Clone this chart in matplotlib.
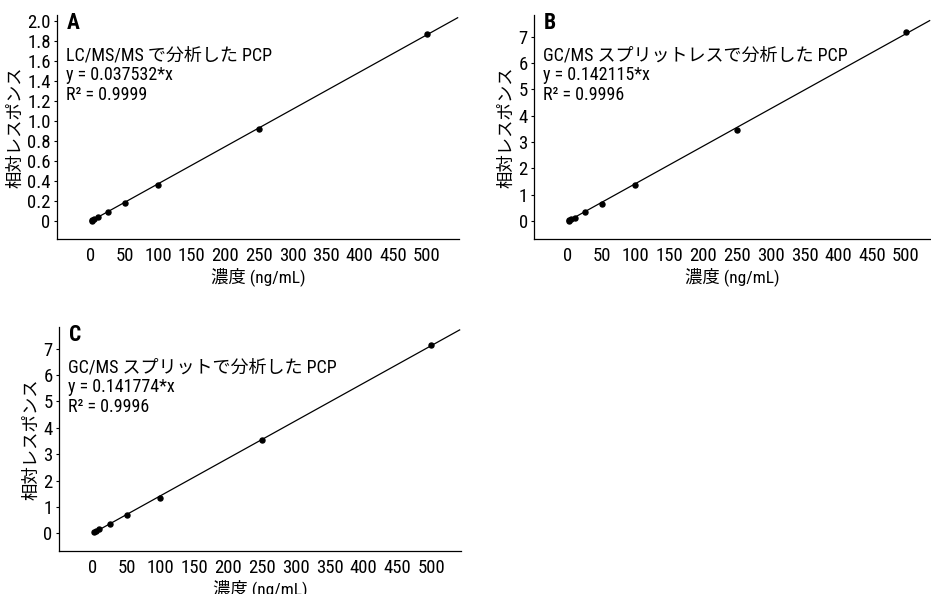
# -*- coding: utf-8 -*-
"""
PCP calibration curves, three panels (LC/MS/MS, GC/MS splitless, GC/MS split)
"""
import matplotlib
matplotlib.use('Agg')
import matplotlib.pyplot as plt
from matplotlib import font_manager
import numpy as np

# concentrations (ng/mL)
conc_a = [1, 2, 5, 10, 25, 50, 100, 250, 500]
conc_b = [1, 2, 5, 10, 25, 50, 100, 250, 500]
conc_c = [2, 5, 10, 25, 50, 100, 250, 500]

# relative response
resp_a = [0.004, 0.008, 0.019, 0.036, 0.093, 0.185, 0.365, 0.92, 1.87]
resp_b = [0.01, 0.03, 0.07, 0.13, 0.33, 0.66, 1.36, 3.47, 7.17]
resp_c = [0.05, 0.08, 0.15, 0.35, 0.70, 1.33, 3.52, 7.15]

panel_labels = ['A', 'B', 'C']
panel_text = ['LC/MS/MS で分析した PCP\ny = 0.037532*x\nR² = 0.9999',
              'GC/MS スプリットレスで分析した PCP\ny = 0.142115*x\nR² = 0.9996',
              'GC/MS スプリットで分析した PCP\ny = 0.141774*x\nR² = 0.9996']
yticks_a = [0, 0.2, 0.4, 0.6, 0.8, 1.0, 1.2, 1.4, 1.6, 1.8, 2.0]
yticklabels_a = ['0', '0.2', '0.4', '0.6', '0.8', '1.0', '1.2', '1.4', '1.6', '1.8', '2.0']
yticks_bc = [0, 1, 2, 3, 4, 5, 6, 7]
xticks = [0, 50, 100, 150, 200, 250, 300, 350, 400, 450, 500]

FIG_W, FIG_H = 931, 594

# look for a narrow latin face, reference uses a condensed grotesque
names = set(f.name for f in font_manager.fontManager.ttflist)
condensed_dv = any(f.name == 'DejaVu Sans' and f.stretch == 'condensed'
                   for f in font_manager.fontManager.ttflist)
latin = 'DejaVu Sans'
stretch = 'normal'
for cand in ['Liberation Sans Narrow', 'Roboto Condensed', 'Open Sans Condensed']:
    if cand in names:
        latin = cand
        break
else:
    if condensed_dv:
        stretch = 'condensed'

plt.rcParams['font.family'] = [latin, 'Noto Sans CJK JP']
plt.rcParams['font.stretch'] = stretch


def px_rect(left, top, right, bottom):
    return [left / FIG_W, (FIG_H - bottom) / FIG_H,
            (right - left) / FIG_W, (bottom - top) / FIG_H]


def draw_panel(ax, conc, resp, label, text, xlim, ylim, yticks, yticklabels, line_x0):
    conc = np.asarray(conc, dtype=float)
    resp = np.asarray(resp, dtype=float)
    # fit through origin
    slope = np.sum(conc * resp) / np.sum(conc * conc)
    xx = np.array([line_x0, xlim[1] - 2])
    ax.plot(xx, slope * xx, color='black', linewidth=0.9, zorder=2)
    ax.plot(conc, resp, 'o', color='black', markersize=3.6, zorder=3)

    ax.set_xlim(xlim)
    ax.set_ylim(ylim)
    ax.set_xticks(xticks)
    ax.set_xticklabels([str(t) for t in xticks])
    ax.set_yticks(yticks)
    ax.set_yticklabels(yticklabels)
    ax.tick_params(axis='x', length=0, pad=6, labelsize=13.5)
    ax.tick_params(axis='y', length=2.5, width=0.8, pad=2, labelsize=13.5)
    for side in ['top', 'right']:
        ax.spines[side].set_visible(False)
    for side in ['left', 'bottom']:
        ax.spines[side].set_linewidth(0.9)

    ax.set_xlabel('濃度 (ng/mL)', fontsize=12.5, labelpad=1)
    ax.set_ylabel('相対レスポンス', fontsize=12.5, labelpad=3)
    ax.text(0.025, 1.015, label, transform=ax.transAxes, fontsize=15.5,
            fontweight='bold', va='top', ha='left')
    ax.text(0.022, 0.858, text, transform=ax.transAxes, fontsize=13,
            va='top', ha='left', linespacing=1.1)


def main():
    fig = plt.figure(figsize=(FIG_W / 100.0, FIG_H / 100.0), dpi=100)

    ax_a = fig.add_axes(px_rect(57, 15, 459, 239))
    draw_panel(ax_a, conc_a, resp_a, panel_labels[0], panel_text[0],
               (-50.6, 547.6), (-0.18, 2.06), yticks_a, yticklabels_a, 0.0)

    ax_b = fig.add_axes(px_rect(534, 15, 931, 239))
    draw_panel(ax_b, conc_b, resp_b, panel_labels[1], panel_text[1],
               (-50.1, 537), (-0.68, 7.82), yticks_bc,
               [str(t) for t in yticks_bc], 0.0)

    ax_c = fig.add_axes(px_rect(59, 327, 461, 551))
    draw_panel(ax_c, conc_c, resp_c, panel_labels[2], panel_text[2],
               (-49.8, 544), (-0.67, 7.82), yticks_bc,
               [str(t) for t in yticks_bc], 2.0)

    fig.savefig('out.png', dpi=100)


if __name__ == "__main__":
    main()
